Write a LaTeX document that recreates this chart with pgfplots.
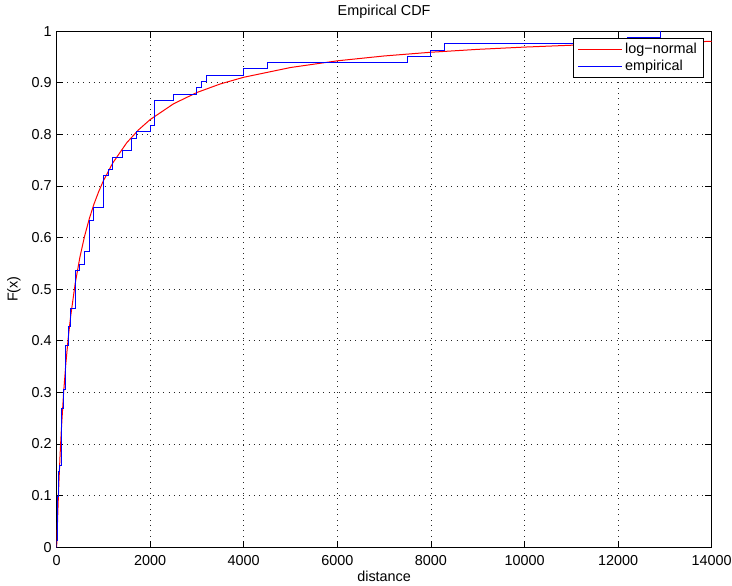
\documentclass[border=0pt]{standalone}
\usepackage{fontspec}
\setmainfont{Liberation Sans}
\usepackage{pgfplots}
\pgfplotsset{compat=1.18}
\newcommand{\mf}{\fontsize{10.8}{13}\selectfont}
\begin{document}
\mf
\begin{tikzpicture}
\path[use as bounding box] (-42.4pt,-28.5pt) rectangle (506.6pt,410.4pt);
\begin{axis}[
  at={(0pt,0pt)}, anchor=south west,
  scale only axis, width=491.4pt, height=387pt,
  xmin=0, xmax=14000, ymin=0, ymax=1,
  xtick={0,2000,4000,6000,8000,10000,12000,14000},
  ytick={0,0.1,0.2,0.3,0.4,0.5,0.6,0.7,0.8,0.9,1},
  scaled x ticks=false,
  /pgf/number format/1000 sep={},
  /pgf/number format/assume math mode=true,
  tick align=inside, tick pos=both,
  major tick length=4.9pt,
  axis line style={line width=0.75pt},
  every tick/.style={black, line width=0.6pt},
  grid=major,
  major grid style={black!85, line width=0.55pt, dash pattern=on 0.6pt off 3.4pt},
  xticklabel style={font=\mf, anchor=north, inner sep=0pt, yshift=-6pt},
  yticklabel style={font=\mf, anchor=east, inner sep=0pt, xshift=-3.4pt},
  title={Empirical CDF},
  title style={font=\mf, at={(axis description cs:0.5,1)}, anchor=center, yshift=8.25pt},
  xlabel={distance},
  xlabel style={font=\mf, at={(axis description cs:0.5,0)}, anchor=center, yshift=-21.75pt},
  ylabel={F(x)},
  ylabel style={font=\mf, at={(axis description cs:0,0.5)}, anchor=center, yshift=31.9pt},
  legend style={font=\mf, at={(rel axis cs:0.988,0.9864)}, anchor=north east, draw=black, line width=0.6pt, fill=white, inner xsep=3pt, inner ysep=1.5pt, row sep=-1pt, cells={anchor=west}},
  legend image code/.code={\draw[#1] (0pt,0pt) -- (33pt,0pt);},
]
\addplot[red, line width=0.75pt] coordinates {
(0,0) (1,0.0003) (2,0.0014) (5,0.0067) (10,0.0189) (20,0.0463) (30,0.0734)
(40,0.0992) (50,0.1232) (75,0.177) (100,0.2228) (150,0.2977) (200,0.3568)
(250,0.4054) (300,0.4463) (400,0.5116) (500,0.5624) (600,0.603) (700,0.6365)
(800,0.665) (900,0.6889) (1000,0.7099) (1200,0.7444) (1500,0.7838) (1750,0.8086)
(2000,0.8287) (2500,0.8593) (3000,0.8812) (3500,0.8978) (4000,0.9107)
(5000,0.9296) (6000,0.9426) (7000,0.952) (8000,0.9592) (9000,0.9648)
(10000,0.9692) (11000,0.9728) (12000,0.9758) (13000,0.9783) (14000,0.9803)
};
\addlegendentry{log−normal}
\addplot[blue, line width=0.75pt, const plot] coordinates {
(0,0) (5,0.0122) (10,0.0366) (20,0.061) (30,0.0976) (40,0.122) (50,0.1463)
(60,0.1585) (100,0.2683) (150,0.3049) (200,0.3902) (250,0.4268) (300,0.4634)
(400,0.5366) (500,0.5488) (600,0.5732) (700,0.6341) (800,0.6585) (1000,0.7195)
(1100,0.7317) (1200,0.7561) (1400,0.7683) (1600,0.7927) (1700,0.8049)
(2000,0.8171) (2100,0.8659) (2500,0.878) (3000,0.8902) (3100,0.9024)
(3200,0.9146) (4000,0.9268) (4500,0.939) (7500,0.9512) (8000,0.9634)
(8300,0.9756) (12200,0.9878) (12900,1)
};
\addlegendentry{empirical}
\end{axis}
\end{tikzpicture}
\end{document}
